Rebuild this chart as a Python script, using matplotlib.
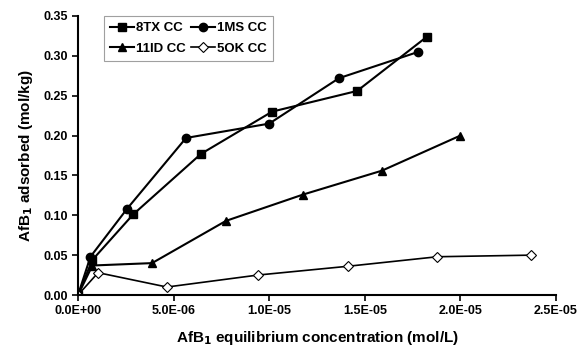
import matplotlib
matplotlib.use("Agg")
import matplotlib.pyplot as plt
from matplotlib.ticker import FuncFormatter

plt.rcParams['font.family'] = ['Liberation Sans', 'DejaVu Sans']
plt.rcParams['font.weight'] = 'bold'

# dati
x_8tx = [0, 7.5e-7, 2.88e-6, 6.43e-6, 1.015e-5, 1.46e-5, 1.825e-5]
y_8tx = [0, 0.044, 0.101, 0.177, 0.230, 0.256, 0.324]
x_1ms = [0, 6.5e-7, 2.56e-6, 5.65e-6, 1.0e-5, 1.365e-5, 1.78e-5]
y_1ms = [0, 0.048, 0.108, 0.197, 0.215, 0.272, 0.305]
x_11id = [0, 7.5e-7, 3.87e-6, 7.74e-6, 1.177e-5, 1.59e-5, 2.0e-5]
y_11id = [0, 0.037, 0.040, 0.093, 0.126, 0.156, 0.200]
x_5ok = [0, 1.05e-6, 4.65e-6, 9.4e-6, 1.41e-5, 1.88e-5, 2.37e-5]
y_5ok = [0, 0.028, 0.010, 0.025, 0.036, 0.048, 0.050]

fig = plt.figure(figsize=(5.84, 3.53), dpi=100)
ax = fig.add_axes([0.1336, 0.1643, 0.8184, 0.7904])

l1, = ax.plot(x_8tx, y_8tx, '-s', color='black', lw=1.5, ms=6, label='8TX CC')
l2, = ax.plot(x_1ms, y_1ms, '-o', color='black', lw=1.5, ms=6, label='1MS CC')
l3, = ax.plot(x_11id, y_11id, '-^', color='black', lw=1.5, ms=6, label='11ID CC')
l4, = ax.plot(x_5ok, y_5ok, '-D', color='black', lw=1.2, ms=5, mfc='white', mew=0.8, label='5OK CC')

ax.set_xlim(0, 2.5e-5)
ax.set_ylim(0, 0.35)
ax.set_xticks([0, 5e-6, 1e-5, 1.5e-5, 2e-5, 2.5e-5])
ax.set_yticks([0, 0.05, 0.10, 0.15, 0.20, 0.25, 0.30, 0.35])
ax.xaxis.set_major_formatter(FuncFormatter(lambda v, p: f"{v:.1E}"))
ax.yaxis.set_major_formatter(FuncFormatter(lambda v, p: f"{v:.2f}"))
ax.tick_params(labelsize=9, direction='out', length=4, width=1.2)
for s in ['top', 'right']:
	ax.spines[s].set_visible(False)
for s in ['left', 'bottom']:
	ax.spines[s].set_linewidth(1.5)

ax.set_xlabel('AfB$_1$ equilibrium concentration (mol/L)', fontsize=11, fontweight='bold', labelpad=8)
ax.set_ylabel('AfB$_1$ adsorbed (mol/kg)', fontsize=11, fontweight='bold', labelpad=6)

# ordine per righe: 8TX 1MS / 11ID 5OK
leg = ax.legend([l1, l3, l2, l4], ['8TX CC', '11ID CC', '1MS CC', '5OK CC'],
	ncol=2, loc='upper left', bbox_to_anchor=(0.04, 1.025), fontsize=9.5,
	frameon=True, fancybox=False, edgecolor='#888888', handlelength=1.8,
	columnspacing=0.4, handletextpad=0.15, borderpad=0.5, labelspacing=0.6)
leg.get_frame().set_linewidth(0.8)

fig.savefig('out.png', dpi=100)
